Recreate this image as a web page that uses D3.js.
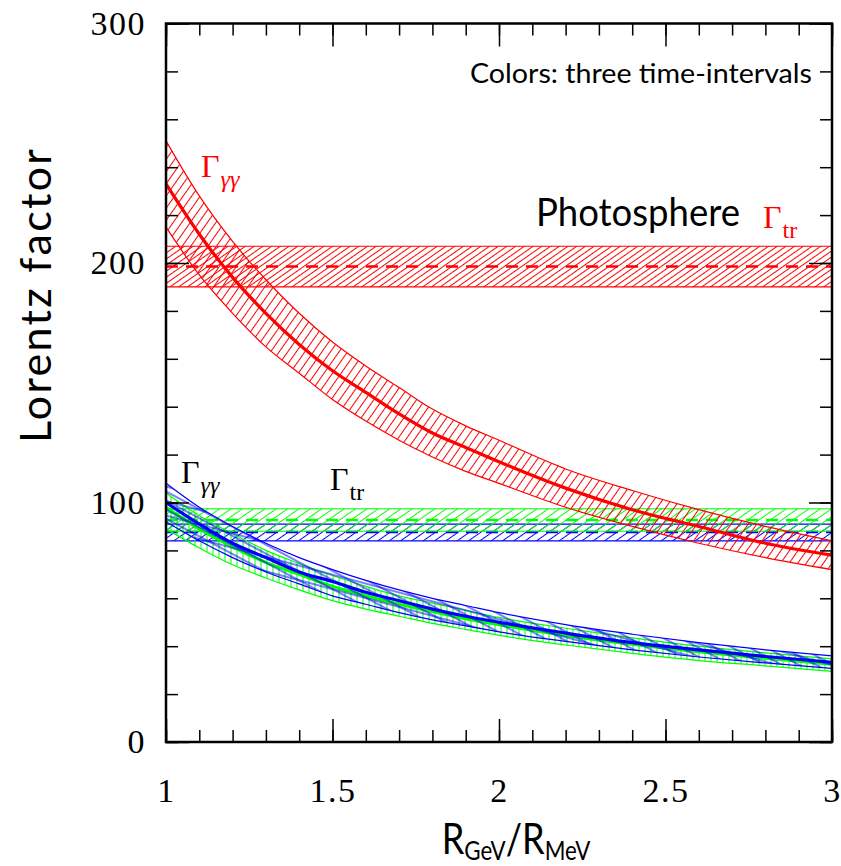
<!DOCTYPE html>
<html>
<head>
<meta charset="utf-8">
<script src="https://cdn.jsdelivr.net/npm/d3@7"></script>
<style>
  body { margin: 0; background: #fff; }
  .tick text { font-family: "Liberation Serif", serif; fill: #000; }
  .sans { font-family: "Lato", "Open Sans", sans-serif; }
  .serif { font-family: "Liberation Serif", serif; }
</style>
</head>
<body>
<div id="chart"></div>
<script>
const xs = [1.0, 1.1, 1.2, 1.3, 1.4, 1.5, 1.6, 1.7, 1.8, 1.9, 2.0, 2.2, 2.4, 2.6, 2.8, 3.0];

// red interval, Gamma_gamma-gamma
const redMid = [233, 212, 194, 179, 166, 155, 146, 137, 129, 123, 117, 106, 97, 90, 83, 78];
const redHi  = [251, 228, 209, 193, 179, 167, 157, 148, 139, 132, 126, 114, 105, 97, 90, 84];
const redLo  = [215, 195, 179, 165, 154, 143, 134, 126, 119, 113, 108, 98, 90, 83, 77, 72];

// blue interval
const blueMid = [100, 91, 83, 77, 71, 67, 62.5, 59, 55.5, 52.5, 50, 45.5, 41.5, 38.5, 35.7, 33.3];
const blueHi  = [108, 98, 90, 83, 77, 72, 67.5, 63.5, 60, 57, 54, 49, 45, 41.5, 38.5, 36];
const blueLo  = [92, 84, 77, 71, 66, 61, 57.5, 54, 51, 48.5, 46, 42, 38.5, 35.5, 33, 30.7];

// green interval
const greenMid = [98, 89, 81.5, 75, 70, 65, 61, 57.5, 54.5, 51.5, 49, 44.5, 40.8, 37.7, 35, 32.5];
const greenHi  = [104, 94.5, 87, 80, 74.5, 69.5, 65, 61, 58, 55, 52, 47.5, 43.5, 40, 37.2, 34.7];
const greenLo  = [89, 81, 74, 68.5, 63.5, 59, 55.5, 52.5, 49.5, 47, 44.5, 40.5, 37, 34, 31.8, 29.5];

// photosphere Gamma_tr: [low, mid, high]
const redTr   = [190, 198.5, 207];
const greenTr = [88, 92.7, 97.4];
const blueTr  = [84, 87.7, 91];

const xMajor = [1, 1.5, 2, 2.5, 3];
const xMinor = d3.range(1, 3.0001, 0.1);
const yMajor = [0, 100, 200, 300];
const yMinor = d3.range(0, 300.001, 20);

const W = 841, H = 866;
const svg = d3.select("#chart").append("svg").attr("width", W).attr("height", H);

const x = d3.scaleLinear().domain([1, 3]).range([166, 832]);
const y = d3.scaleLinear().domain([0, 300]).range([742, 23.5]);

// hatch patterns
const defs = svg.append("defs");
function hatch(id, color, spacing, angle, sw) {
  const p = defs.append("pattern")
    .attr("id", id)
    .attr("patternUnits", "userSpaceOnUse")
    .attr("width", spacing)
    .attr("height", 20)
    .attr("patternTransform", `rotate(${angle})`);
  p.append("line")
    .attr("x1", spacing / 2).attr("x2", spacing / 2)
    .attr("y1", -2).attr("y2", 22)
    .attr("stroke", color).attr("stroke-width", sw);
}
hatch("hRedFlat", "#ff0000", 5, 55, 1);
hatch("hGreenFlat", "#00ff00", 6.5, 55, 1);
hatch("hBlueFlat", "#0000ff", 6.5, 55, 1);
hatch("hRedCurve", "#ff0000", 7, 35, 1);
hatch("hGreenCurve", "#00ff00", 6, 0, 1);
hatch("hBlueCurve", "#0000ff", 8, -62, 1);
hatch("hBlueCurve2", "#0000ff", 14, -75, 1);

const plot = svg.append("g");

// horizontal bands (photosphere)
function flatBand(tr, color, pat) {
  plot.append("rect")
    .attr("x", x(1)).attr("width", x(3) - x(1))
    .attr("y", y(tr[2])).attr("height", y(tr[0]) - y(tr[2]))
    .attr("fill", `url(#${pat})`);
  [tr[0], tr[2]].forEach((v) => {
    plot.append("line")
      .attr("x1", x(1)).attr("x2", x(3))
      .attr("y1", y(v)).attr("y2", y(v))
      .attr("stroke", color).attr("stroke-width", 1.2);
  });
  plot.append("line")
    .attr("x1", x(1)).attr("x2", x(3))
    .attr("y1", y(tr[1])).attr("y2", y(tr[1]))
    .attr("stroke", color).attr("stroke-width", 2.5)
    .attr("stroke-dasharray", "12,8");
}
flatBand(redTr, "#ff0000", "hRedFlat");
flatBand(blueTr, "#0000ff", "hBlueFlat");
flatBand(greenTr, "#00ff00", "hGreenFlat");

// curved bands (Gamma_gamma-gamma)
const area = d3.area()
  .x((d) => x(d.x)).y0((d) => y(d.lo)).y1((d) => y(d.hi))
  .curve(d3.curveMonotoneX);
const line = d3.line()
  .x((d) => x(d[0])).y((d) => y(d[1]))
  .curve(d3.curveMonotoneX);

function curveBand(mid, hi, lo, color, pats) {
  const rows = xs.map((v, i) => ({ x: v, hi: hi[i], lo: lo[i] }));
  pats.forEach((pat) => {
    plot.append("path").attr("d", area(rows)).attr("fill", `url(#${pat})`);
  });
  [hi, lo].forEach((arr) => {
    plot.append("path")
      .attr("d", line(xs.map((v, i) => [v, arr[i]])))
      .attr("fill", "none").attr("stroke", color).attr("stroke-width", 1.2);
  });
  plot.append("path")
    .attr("d", line(xs.map((v, i) => [v, mid[i]])))
    .attr("fill", "none").attr("stroke", color).attr("stroke-width", 3.2);
}
curveBand(greenMid, greenHi, greenLo, "#00ff00", ["hGreenCurve"]);
curveBand(blueMid, blueHi, blueLo, "#0000ff", ["hBlueCurve", "hBlueCurve2"]);
curveBand(redMid, redHi, redLo, "#ff0000", ["hRedCurve"]);

// axes: ticks on all four sides, pointing inward
function styleAxis(g) {
  g.select(".domain").remove();
  g.selectAll(".tick line").attr("stroke", "#000").attr("stroke-width", 1.5);
}
svg.append("g").attr("transform", `translate(0,${y(0)})`)
  .call(d3.axisBottom(x).tickValues(xMinor).tickSize(-12).tickFormat(""))
  .call(styleAxis);
svg.append("g").attr("transform", `translate(0,${y(0)})`)
  .call(d3.axisBottom(x).tickValues(xMajor).tickSize(-23).tickPadding(36)
    .tickFormat((d) => d))
  .call(styleAxis)
  .selectAll("text").attr("font-size", 34).attr("letter-spacing", 1.5);
svg.append("g").attr("transform", `translate(0,${y(300)})`)
  .call(d3.axisTop(x).tickValues(xMinor).tickSize(-12).tickFormat(""))
  .call(styleAxis);
svg.append("g").attr("transform", `translate(0,${y(300)})`)
  .call(d3.axisTop(x).tickValues(xMajor).tickSize(-23).tickFormat(""))
  .call(styleAxis);

svg.append("g").attr("transform", `translate(${x(1)},0)`)
  .call(d3.axisLeft(y).tickValues(yMinor).tickSize(-12).tickFormat(""))
  .call(styleAxis);
svg.append("g").attr("transform", `translate(${x(1)},0)`)
  .call(d3.axisLeft(y).tickValues(yMajor).tickSize(-23).tickPadding(20))
  .call(styleAxis)
  .selectAll("text").attr("font-size", 34).attr("letter-spacing", 1.5);
svg.append("g").attr("transform", `translate(${x(3)},0)`)
  .call(d3.axisRight(y).tickValues(yMinor).tickSize(-12).tickFormat(""))
  .call(styleAxis);
svg.append("g").attr("transform", `translate(${x(3)},0)`)
  .call(d3.axisRight(y).tickValues(yMajor).tickSize(-23).tickFormat(""))
  .call(styleAxis);

svg.append("rect")
  .attr("x", x(1)).attr("y", y(300))
  .attr("width", x(3) - x(1)).attr("height", y(0) - y(300))
  .attr("fill", "none").attr("stroke", "#000").attr("stroke-width", 2.5);

// axis titles
svg.append("text").attr("class", "sans")
  .attr("transform", "translate(51,296) rotate(-90)")
  .attr("text-anchor", "middle").attr("font-size", 43)
  .attr("textLength", 294).attr("lengthAdjust", "spacing")
  .text("Lorentz factor");

const xt = svg.append("text").attr("class", "sans")
  .attr("x", 516).attr("y", 854).attr("text-anchor", "middle").attr("font-size", 42)
  .attr("transform", "translate(516,0) scale(0.86,1) translate(-516,0)");
xt.append("tspan").text("R");
xt.append("tspan").attr("font-size", 26).attr("dy", 6).text("GeV");
xt.append("tspan").attr("dy", -6).text("/R");
xt.append("tspan").attr("font-size", 26).attr("dy", 6).text("MeV");

// annotations
svg.append("text").attr("class", "sans")
  .attr("x", 470).attr("y", 83).attr("font-size", 27)
  .attr("textLength", 342).attr("lengthAdjust", "spacingAndGlyphs")
  .text("Colors: three time-intervals");
svg.append("text").attr("class", "sans")
  .attr("x", 536).attr("y", 226).attr("font-size", 39)
  .attr("textLength", 204).attr("lengthAdjust", "spacingAndGlyphs")
  .text("Photosphere");

function gammaLabel(px, py, sub, color, italic) {
  const t = svg.append("text").attr("class", "serif")
    .attr("x", px).attr("y", py).attr("fill", color).attr("font-size", 32);
  t.append("tspan").text("Γ");
  t.append("tspan").attr("font-size", 24).attr("dy", 10).attr("dx", 1)
    .attr("font-style", italic ? "italic" : "normal").text(sub);
}
gammaLabel(201, 177, "γγ", "#ff0000", true);
gammaLabel(181, 483, "γγ", "#000", true);
gammaLabel(330, 490, "tr", "#000", false);
gammaLabel(763, 228, "tr", "#ff0000", false);
</script>
</body>
</html>
